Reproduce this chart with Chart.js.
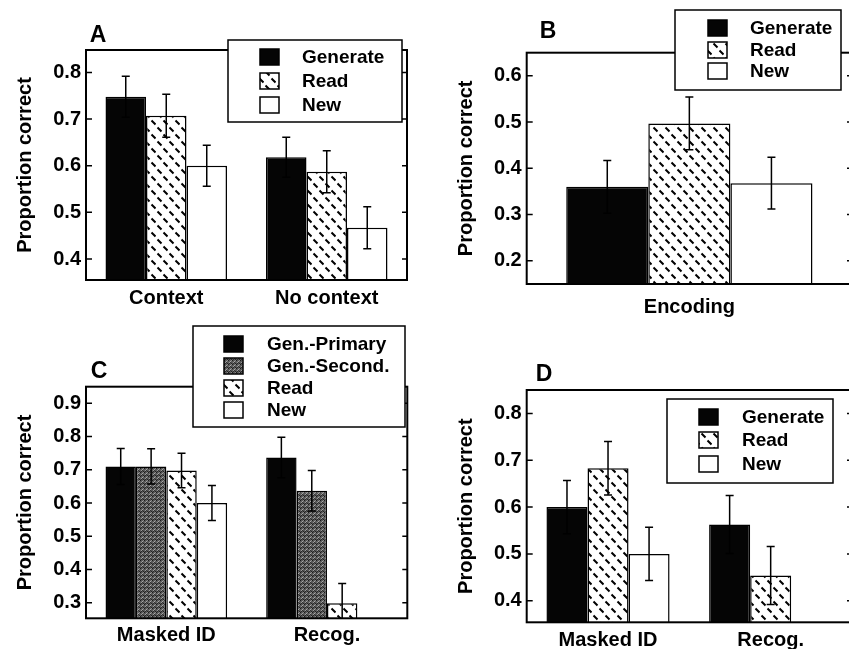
<!DOCTYPE html>
<html><head><meta charset="utf-8">
<script src="https://cdn.jsdelivr.net/npm/chart.js@4.4.0/dist/chart.umd.min.js"></script>
<style>
html,body{margin:0;padding:0;background:#fff;overflow:hidden;width:849px;height:649px;position:relative;}
canvas{position:absolute;display:block;}
</style></head><body>
<canvas id="cA" width="424" height="320" style="left:0;top:0"></canvas>
<canvas id="cB" width="440" height="320" style="left:424px;top:0"></canvas>
<canvas id="cC" width="424" height="329" style="left:0;top:320px"></canvas>
<canvas id="cD" width="440" height="329" style="left:424px;top:320px"></canvas>
<script>
// ---------- DATA ----------
const seriesGRN = ['Generate', 'Read', 'New'];
const seriesC = ['Gen.-Primary', 'Gen.-Second.', 'Read', 'New'];

// Panel A
const catA = ['Context', 'No context'];
const aGenerate = [0.748, 0.618], aGenerateErr = [0.044, 0.043];
const aRead = [0.707, 0.587], aReadErr = [0.046, 0.045];
const aNew = [0.600, 0.467], aNewErr = [0.044, 0.045];
const aTicks = [0.4, 0.5, 0.6, 0.7, 0.8];

// Panel B
const catB = ['Encoding'];
const bGenerate = [0.360], bGenerateErr = [0.057];
const bRead = [0.497], bReadErr = [0.057];
const bNew = [0.368], bNewErr = [0.056];
const bTicks = [0.2, 0.3, 0.4, 0.5, 0.6];

// Panel C
const catC = ['Masked ID', 'Recog.'];
const cGenPrimary = [0.710, 0.737], cGenPrimaryErr = [0.054, 0.061];
const cGenSecond = [0.710, 0.637], cGenSecondErr = [0.053, 0.061];
const cRead = [0.698, 0.298], cReadErr = [0.052, 0.060];
const cNew = [0.600, null], cNewErr = [0.053, null];
const cTicks = [0.3, 0.4, 0.5, 0.6, 0.7, 0.8, 0.9];

// Panel D
const catD = ['Masked ID', 'Recog.'];
const dGenerate = [0.600, 0.563], dGenerateErr = [0.057, 0.062];
const dRead = [0.683, 0.454], dReadErr = [0.057, 0.062];
const dNew = [0.500, null], dNewErr = [0.057, null];
const dTicks = [0.4, 0.5, 0.6, 0.7, 0.8];

// ---------- STYLE ----------
const FONT = "'Liberation Sans', Arial, Helvetica, sans-serif";

function readPattern() {
  const t = document.createElement('canvas');
  t.width = 12; t.height = 14;
  const g = t.getContext('2d');
  g.fillStyle = '#fff'; g.fillRect(0, 0, 12, 14);
  g.strokeStyle = '#000'; g.lineWidth = 2;
  g.beginPath();
  g.moveTo(1.5, 1.5); g.lineTo(5.5, 5.5);
  g.moveTo(7.5, 8.5); g.lineTo(11.5, 12.5);
  g.stroke();
  return g.createPattern(t, 'repeat');
}
function grayPattern() {
  const t = document.createElement('canvas');
  t.width = 4; t.height = 4;
  const g = t.getContext('2d');
  g.fillStyle = '#595959'; g.fillRect(0, 0, 4, 4);
  const px = [[0,0,'#1a1a1a'],[2,1,'#a8a8a8'],[1,2,'#9a9a9a'],[3,3,'#222'],[3,0,'#8a8a8a'],[1,3,'#2a2a2a'],[2,2,'#333']];
  px.forEach(p => { g.fillStyle = p[2]; g.fillRect(p[0], p[1], 1, 1); });
  return g.createPattern(t, 'repeat');
}
const FILL_BLACK = '#050505';
const FILL_READ = readPattern();
const FILL_GRAY = grayPattern();
const FILL_NEW = '#ffffff';

const decor = {
  id: 'decor',
  afterDatasetsDraw(chart, args, o) {
    const ctx = chart.ctx, ca = chart.chartArea, ys = chart.scales.y;
    ctx.save();
    ctx.strokeStyle = '#000';
    ctx.lineWidth = 1.5;
    chart.data.datasets.forEach((ds, i) => {
      const meta = chart.getDatasetMeta(i);
      meta.data.forEach((bar, j) => {
        const v = ds.data[j], e = ds.err[j];
        if (v == null || e == null) return;
        const x = bar.x;
        const yt = ys.getPixelForValue(v + e);
        const ybRaw = ys.getPixelForValue(v - e);
        const yb = Math.min(ybRaw, ca.bottom);
        ctx.beginPath();
        ctx.moveTo(x, yt); ctx.lineTo(x, yb);
        ctx.moveTo(x - 4, yt); ctx.lineTo(x + 4, yt);
        if (ybRaw <= ca.bottom) { ctx.moveTo(x - 4, yb); ctx.lineTo(x + 4, yb); }
        ctx.stroke();
      });
    });
    // frame
    ctx.lineWidth = 2;
    ctx.strokeRect(ca.left, ca.top, ca.right - ca.left, ca.bottom - ca.top);
    // inward ticks, both sides
    ctx.lineWidth = 1.5;
    ys.ticks.forEach(t => {
      const y = ys.getPixelForValue(t.value);
      ctx.beginPath();
      ctx.moveTo(ca.left, y); ctx.lineTo(ca.left + 6, y);
      ctx.moveTo(ca.right, y); ctx.lineTo(ca.right - 5, y);
      ctx.stroke();
    });
    // legend
    const L = o.legend;
    ctx.fillStyle = '#fff';
    ctx.fillRect(L.x, L.y, L.w, L.h);
    ctx.lineWidth = 1.5;
    ctx.strokeRect(L.x, L.y, L.w, L.h);
    ctx.font = 'bold 19px ' + FONT;
    ctx.textBaseline = 'middle';
    ctx.textAlign = 'left';
    chart.data.datasets.forEach((ds, i) => {
      const cy = L.rows[i];
      ctx.fillStyle = ds.backgroundColor;
      ctx.fillRect(L.sx, cy - 8, 19, 16);
      ctx.strokeRect(L.sx, cy - 8, 19, 16);
      ctx.fillStyle = '#000';
      ctx.fillText(ds.label, L.tx, cy + 1);
    });
    // panel letter
    ctx.font = 'bold 23px ' + FONT;
    ctx.textAlign = 'center';
    ctx.fillText(o.letter.t, o.letter.x, o.letter.y);
    ctx.restore();
  }
};

function ds(label, data, err, fill) {
  return { label, data, err, backgroundColor: fill, borderColor: '#000', borderWidth: 1.5,
    borderSkipped: false, barPercentage: 1, categoryPercentage: 0.757 };
}

function panel(id, labels, datasets, yMin, yMax, ticks, pad, yW, xH, xPad, legend, letter) {
  new Chart(document.getElementById(id), {
    type: 'bar',
    data: { labels, datasets },
    options: {
      responsive: false, animation: false, devicePixelRatio: 1,
      layout: { padding: pad },
      plugins: { legend: { display: false }, tooltip: { enabled: false },
        decor: { legend, letter } },
      scales: {
        x: {
          grid: { display: false, drawTicks: false }, border: { display: false },
          ticks: { color: '#000', font: { family: FONT, size: 20, weight: 'bold' }, padding: xPad, maxRotation: 0 },
          afterFit: s => { s.height = xH; }
        },
        y: {
          min: yMin, max: yMax,
          grid: { display: false, drawTicks: false }, border: { display: false },
          afterBuildTicks: s => { s.ticks = ticks.map(v => ({ value: v })); },
          ticks: { color: '#000', font: { family: FONT, size: 20, weight: 'bold' }, padding: 5,
            callback: v => v.toFixed(1) },
          title: { display: true, text: 'Proportion correct', color: '#000',
            font: { family: FONT, size: 20, weight: 'bold' }, padding: { top: 0, bottom: 0 } },
          afterFit: s => { s.width = yW; }
        }
      }
    },
    plugins: [decor]
  });
}

panel('cA', catA, [
  ds(seriesGRN[0], aGenerate, aGenerateErr, FILL_BLACK),
  ds(seriesGRN[1], aRead, aReadErr, FILL_READ),
  ds(seriesGRN[2], aNew, aNewErr, FILL_NEW)
], 0.355, 0.848, aTicks, { left: 13, top: 50, right: 17, bottom: 0 }, 73, 40, 6,
  { x: 228, y: 40, w: 174, h: 82, sx: 260, tx: 302, rows: [57, 81, 105] },
  { t: 'A', x: 98, y: 36 });

panel('cB', catB, [
  ds(seriesGRN[0], bGenerate, bGenerateErr, FILL_BLACK),
  ds(seriesGRN[1], bRead, bReadErr, FILL_READ),
  ds(seriesGRN[2], bNew, bNewErr, FILL_NEW)
], 0.15, 0.65, bTicks, { left: 30.7, top: 52.7, right: 12, bottom: 0 }, 72, 36, 11,
  { x: 251, y: 10, w: 166, h: 80, sx: 284, tx: 326, rows: [28, 50, 71] },
  { t: 'B', x: 124, y: 32 });

panel('cC', catC, [
  ds(seriesC[0], cGenPrimary, cGenPrimaryErr, FILL_BLACK),
  ds(seriesC[1], cGenSecond, cGenSecondErr, FILL_GRAY),
  ds(seriesC[2], cRead, cReadErr, FILL_READ),
  ds(seriesC[3], cNew, cNewErr, FILL_NEW)
], 0.253, 0.95, cTicks, { left: 13, top: 66.7, right: 16.7, bottom: 0 }, 73, 30.7, 5,
  { x: 193, y: 6, w: 212, h: 101, sx: 224, tx: 267, rows: [24, 46, 68, 90] },
  { t: 'C', x: 99, y: 52 });

panel('cD', catD, [
  ds(seriesGRN[0], dGenerate, dGenerateErr, FILL_BLACK),
  ds(seriesGRN[1], dRead, dReadErr, FILL_READ),
  ds(seriesGRN[2], dNew, dNewErr, FILL_NEW)
], 0.354, 0.85, dTicks, { left: 30.7, top: 70, right: 12, bottom: 0 }, 72, 26.7, 6,
  { x: 243, y: 79, w: 166, h: 84, sx: 275, tx: 318, rows: [97, 120, 144] },
  { t: 'D', x: 120, y: 55 });
</script>
</body></html>
